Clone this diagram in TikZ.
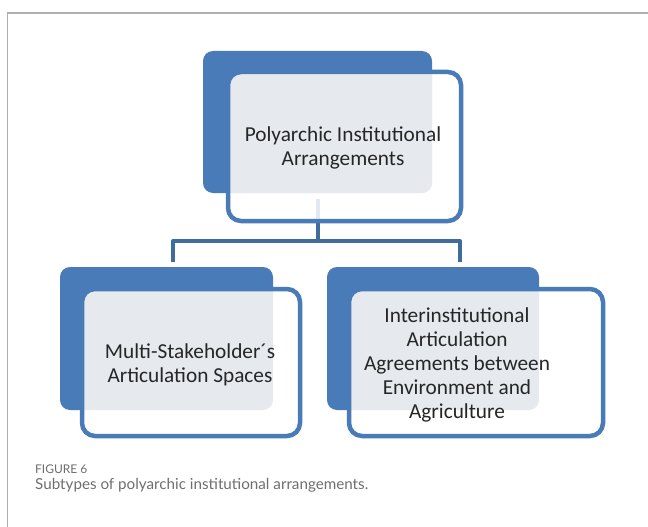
\documentclass[tikz,border=0pt]{standalone}
\usepackage{fontspec}
\setmainfont{Carlito}
\newfontfamily\capfont{Lato}
\usetikzlibrary{positioning}

\definecolor{boxblue}{RGB}{72,123,183}
\definecolor{connblue}{RGB}{63,108,155}
\definecolor{lightfill}{RGB}{230,234,239}
\definecolor{framegray}{RGB}{175,175,175}
\definecolor{capgray}{RGB}{110,110,110}

\tikzset{
  backbox/.style={fill=boxblue, rounded corners=10pt},
  frontbox/.style={draw=boxblue, line width=4.5pt, rounded corners=13pt},
  conn/.style={draw=connblue, line width=4pt},
  boxtext/.style={align=center, font=\fontsize{21.3}{23.8}\selectfont, text=black!85},
  captext/.style={anchor=base west, inner sep=0pt, text=capgray},
}

\begin{document}
\begin{tikzpicture}[x=1pt,y=-1pt]
  \useasboundingbox (0,0) rectangle (648,527);
  % 枠
  \draw[framegray, line width=1.5pt] (7.5,527) -- (7.5,13) -- (648,13);

  % 上の箱
  \fill[backbox] (203,51) rectangle (432,193);
  % 接続線
  \coordinate (ctop)   at (318,199);
  \coordinate (jn)     at (318,241);
  \coordinate (cleft)  at (173,262);
  \coordinate (cright) at (460,262);
  \draw[conn] (ctop) -- (jn);
  \draw[conn, line join=round] (cleft) |- (jn) -| (cright);
  \fill[white, fill opacity=0.85, rounded corners=13pt] (228,72) rectangle (461,221);
  \begin{scope}
    \clip[rounded corners=10pt] (203,51) rectangle (432,193);
    \fill[lightfill, rounded corners=13pt] (228,72) rectangle (461,221);
  \end{scope}
  \draw[frontbox] (228,72) rectangle (461,221);
  \node[boxtext] (top) at (343,148) {Polyarchic Institutional\\Arrangements};

  % 左下の箱
  \fill[backbox] (60,267) rectangle (273,410);
  \fill[white, rounded corners=13pt] (82,289) rectangle (300,436);
  \begin{scope}
    \clip[rounded corners=10pt] (60,267) rectangle (273,410);
    \fill[lightfill, rounded corners=13pt] (82,289) rectangle (300,436);
  \end{scope}
  \draw[frontbox] (82,289) rectangle (300,436);
  \node[boxtext] (msas) at (190,365) {Multi-Stakeholder´s\\Articulation Spaces};

  % 右下の箱
  \fill[backbox] (327,267) rectangle (539,410);
  \fill[white, rounded corners=13pt] (349,289) rectangle (603,436);
  \begin{scope}
    \clip[rounded corners=10pt] (327,267) rectangle (539,410);
    \fill[lightfill, rounded corners=13pt] (349,289) rectangle (603,436);
  \end{scope}
  \draw[frontbox] (349,289) rectangle (603,436);
  \node[boxtext] (iaa) at (457,365) {Interinstitutional\\Articulation\\Agreements between\\Environment and\\Agriculture};

  % 図の説明
  \node[captext, font=\capfont\fontsize{12}{14}\selectfont] (fig) at (35,473) {FIGURE 6};
  \node[captext, font=\capfont\fontsize{15.2}{18}\selectfont] (cap) at (35,489) {Subtypes of polyarchic institutional arrangements.};
\end{tikzpicture}
\end{document}
